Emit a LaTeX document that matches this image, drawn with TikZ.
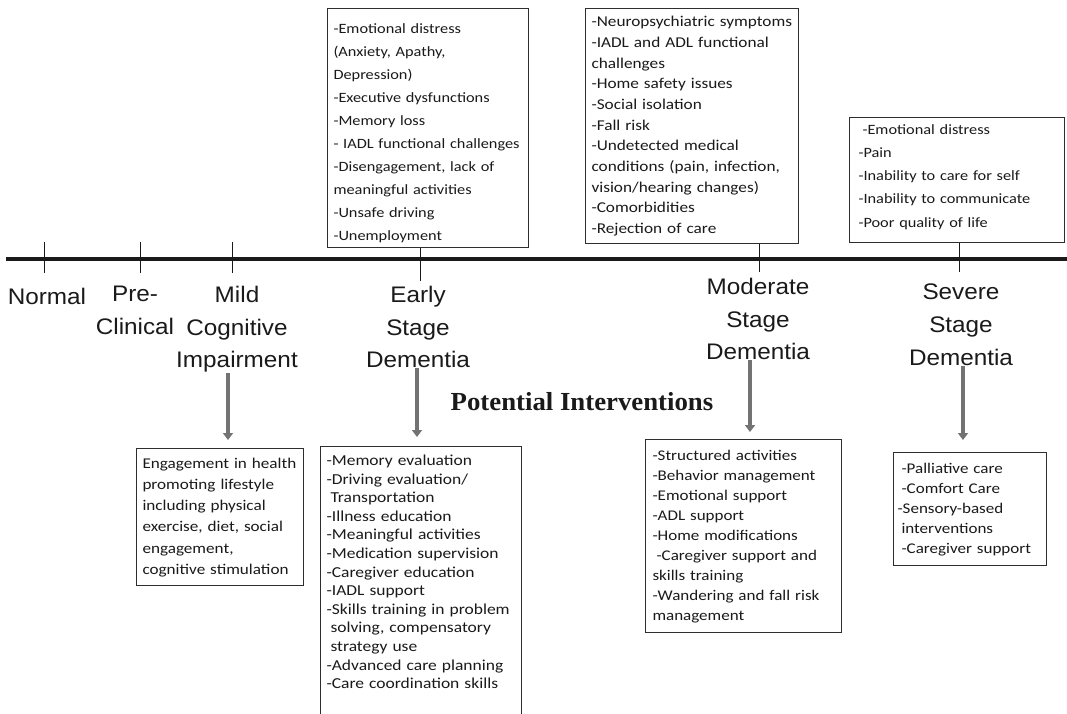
\documentclass[tikz,border=0pt]{standalone}
\usepackage{fontspec}
\usetikzlibrary{arrows.meta,calc}
\newfontfamily\boxfont[FakeStretch=1.15]{Carlito}
\newfontfamily\labfont[FakeStretch=1.08]{Liberation Sans}
\newfontfamily\headfont[FakeStretch=1.03]{Liberation Serif}
\definecolor{ink}{HTML}{1A1A1A}
\definecolor{arrgray}{HTML}{737373}
\definecolor{boxline}{HTML}{2E2E2E}
\newcommand\bxf[2]{\boxfont\fontsize{#1}{#2}\selectfont}
\newcommand\ind{\hspace*{4pt}}
\tikzset{
  box/.style={draw=boxline, line width=1pt, anchor=north west, inner xsep=6pt, inner ysep=0pt, align=left, text=ink},
  stagelab/.style={font=\labfont\fontsize{22.5}{32.7}\selectfont, align=center, anchor=north, inner sep=0pt, text=ink},
  tick/.style={draw=ink, line width=1pt},
  arr/.style={draw=arrgray, line width=4.5pt, -{Triangle[length=7pt,width=10pt]}},
  mainline/.style={draw=ink, line width=3.5pt}
}
\begin{document}
\begin{tikzpicture}[x=1pt,y=-1pt]
\useasboundingbox[fill=white] (0,0) rectangle (1067,714);

% main timeline
\coordinate (L1) at (6,259);
\coordinate (L2) at (1067,259);
\draw[mainline] (L1) -- (L2);

% plain ticks
\coordinate (tn1) at (44,242); \coordinate (tn2) at (44,273);
\coordinate (tp1) at (140,242); \coordinate (tp2) at (140,273);
\coordinate (tm1) at (232,242); \coordinate (tm2) at (232,273);
\draw[tick] (tn1) -- (tn2);
\draw[tick] (tp1) -- (tp2);
\draw[tick] (tm1) -- (tm2);

% top boxes (challenges)
\node[box, minimum width=201pt, minimum height=239pt, text width=189pt, font=\bxf{14.2}{23}] (e1) at (327,8) {\begin{tabular}{@{}l@{}}
\rule{0pt}{24pt}-Emotional distress\\
(Anxiety, Apathy,\\
Depression)\\
-Executive dysfunctions\\
-Memory loss\\
- IADL functional challenges\\
-Disengagement, lack of\\
meaningful activities\\
-Unsafe driving\\
-Unemployment
\end{tabular}};

\node[box, minimum width=213pt, minimum height=235pt, text width=201pt, font=\bxf{15}{20.7}] (m1) at (585,8) {\begin{tabular}{@{}l@{}}
-Neuropsychiatric symptoms\\
-IADL and ADL functional\\
challenges\\
-Home safety issues\\
-Social isolation\\
-Fall risk\\
-Undetected medical\\
conditions (pain, infection,\\
vision/hearing changes)\\
-Comorbidities\\
-Rejection of care
\end{tabular}};

\node[box, minimum width=209pt, minimum height=125pt, text width=197pt, inner xsep=9pt, font=\bxf{14.2}{23.3}] (s1) at (849,117) {\begin{tabular}{@{}l@{}}
\ind-Emotional distress\\
-Pain\\
-Inability to care for self\\
-Inability to communicate\\
-Poor quality of life\rule[-15pt]{0pt}{0pt}
\end{tabular}};

% ticks from top boxes
\coordinate (te) at (420,281);
\coordinate (tmo) at (759,272);
\coordinate (ts) at (959,272);
\draw[tick] (e1.south -| te) -- (te);
\draw[tick] (m1.south -| tmo) -- (tmo);
\draw[tick] (s1.south -| ts) -- (ts);

% stage labels
\node[stagelab] (lnorm) at (47,287.6) {Normal};
\node[stagelab] (lpre) at (135,286) {Pre-\\Clinical};
\node[stagelab] (lmci) at (237,286) {Mild\\Cognitive\\Impairment};
\node[stagelab] (learly) at (418,286) {Early\\Stage\\Dementia};
\node[stagelab] (lmod) at (758,278) {Moderate\\Stage\\Dementia};
\node[stagelab] (lsev) at (961,284) {Severe\\Stage\\Dementia};

% heading
\node[font=\headfont\bfseries\fontsize{26}{30}\selectfont, anchor=base, inner sep=0pt, text=ink] (pi) at (582,410) {Potential Interventions};

% bottom boxes (interventions)
\node[box, minimum width=167pt, minimum height=137pt, text width=155pt, inner xsep=5pt, font=\bxf{14.9}{21.3}] (bmci) at (136,448) {\begin{tabular}{@{}l@{}}
Engagement in health\\
promoting lifestyle\\
including physical\\
exercise, diet, social\\
engagement,\\
cognitive stimulation
\end{tabular}};

\node[box, draw=none, text width=188pt, inner ysep=6pt, font=\bxf{15.2}{18.6}] (bearly) at (320,446) {\begin{tabular}{@{}l@{}}
-Memory evaluation\\
-Driving evaluation/\\
\ind Transportation\\
-Illness education\\
-Meaningful activities\\
-Medication supervision\\
-Caregiver education\\
-IADL support\\
-Skills training in problem\\
\ind solving, compensatory\\
\ind strategy use\\
-Advanced care planning\\
-Care coordination skills
\end{tabular}};
\coordinate (pagebot) at (0,724);
\draw[boxline, line width=1pt] (bearly.north west |- pagebot) -- (bearly.north west) -- (bearly.north east) -- (bearly.north east |- pagebot);

\node[box, minimum width=194pt, minimum height=193pt, text width=182pt, inner xsep=7pt, font=\bxf{14.8}{20}] (bmod) at (645,439) {\begin{tabular}{@{}l@{}}
-Structured activities\\
-Behavior management\\
-Emotional support\\
-ADL support\\
-Home modifications\\
\ind-Caregiver support and\\
skills training\\
-Wandering and fall risk\\
management
\end{tabular}};

\node[box, minimum width=153pt, minimum height=113pt, text width=145pt, inner xsep=4pt, font=\bxf{14.8}{20}] (bsev) at (893,452) {\begin{tabular}{@{}l@{}}
\ind-Palliative care\\
\ind-Comfort Care\\
-Sensory-based\\
\ind interventions\\
\ind-Caregiver support
\end{tabular}};

% arrows from stages to interventions
\coordinate (ax1) at (228,0);
\coordinate (ax2) at (417,0);
\coordinate (ax3) at (750,0);
\coordinate (ax4) at (963,0);
\draw[arr, shorten >=8pt] (lmci.south -| ax1) -- (bmci.north -| ax1);
\draw[arr, shorten >=9pt] (learly.south -| ax2) -- (bearly.north -| ax2);
\draw[arr, shorten >=7pt] (lmod.south -| ax3) -- (bmod.north -| ax3);
\draw[arr, shorten >=12pt] (lsev.south -| ax4) -- (bsev.north -| ax4);
\end{tikzpicture}
\end{document}
